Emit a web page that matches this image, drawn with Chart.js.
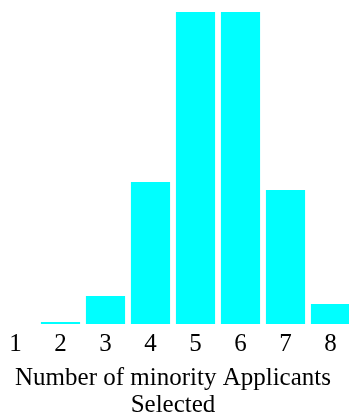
<!DOCTYPE html>
<html>
<head>
<meta charset="utf-8">
<script src="https://cdn.jsdelivr.net/npm/chart.js@4"></script>
<style>
  html, body { margin: 0; padding: 0; background: #fff; overflow: hidden; }
  #wrap { position: absolute; left: -7px; top: 0; width: 360px; height: 419px; }
</style>
</head>
<body>
<div id="wrap"><canvas id="chart"></canvas></div>
<script>
// --- DATA ---
const categories = ['1', '2', '3', '4', '5', '6', '7', '8'];
const values = [0, 0.002, 0.028, 0.142, 0.312, 0.312, 0.134, 0.020];
const axisTitle = ['Number of minority Applicants', 'Selected'];

const serif = "'Liberation Serif', 'Times New Roman', serif";

new Chart(document.getElementById('chart'), {
    type: 'bar',
    data: {
        labels: categories,
        datasets: [{
            data: values,
            backgroundColor: '#00ffff',
            borderWidth: 0,
            barPercentage: 0.87,
            categoryPercentage: 1.0
        }]
    },
    options: {
        responsive: true,
        maintainAspectRatio: false,
        animation: false,
        layout: { padding: { top: 12, bottom: 0, left: 0, right: 0 } },
        plugins: { legend: { display: false }, tooltip: { enabled: false } },
        scales: {
            x: {
                grid: { display: false, drawTicks: false },
                border: { display: false },
                ticks: {
                    color: '#000',
                    padding: 5,
                    maxRotation: 0,
                    font: { family: serif, size: 25, lineHeight: 1.2 }
                },
                title: {
                    display: true,
                    text: axisTitle,
                    color: '#000',
                    padding: { top: 1, bottom: 0 },
                    font: { family: serif, size: 25, lineHeight: 1.08 }
                }
            },
            y: {
                display: false,
                min: 0,
                max: Math.max(...values)
            }
        }
    }
});
</script>
</body>
</html>
